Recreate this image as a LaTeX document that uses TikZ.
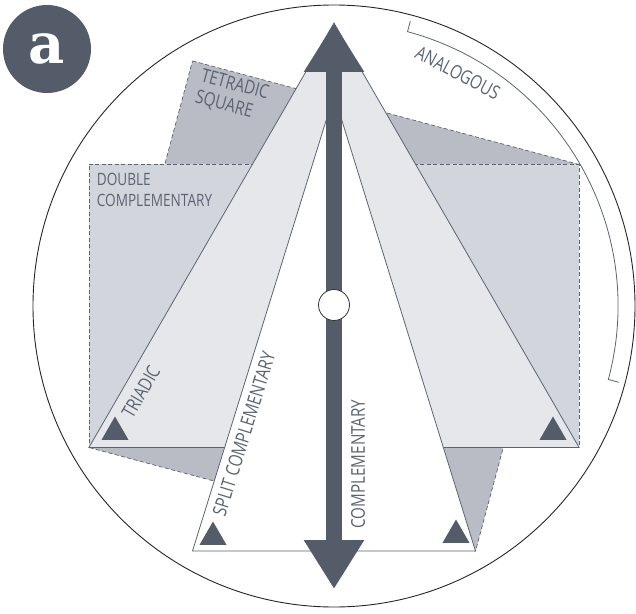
\documentclass[tikz,border=0pt]{standalone}
\usepackage{fontspec}
\newfontfamily\labelfont[FakeStretch=0.8]{Open Sans}
\newfontfamily\badgefont{DejaVu Serif}
\usetikzlibrary{arrows.meta,shapes.geometric}
\definecolor{slate}{HTML}{555C69}
\definecolor{ink}{HTML}{5C6372}
\definecolor{tetra}{HTML}{B9BCC4}
\definecolor{dcomp}{HTML}{D2D5DC}
\definecolor{triad}{HTML}{E6E7EB}

\begin{document}
\begin{tikzpicture}[x=1pt,y=1pt,
        wheel/.style={draw=black!85,line width=0.9pt},
        edge/.style={draw=ink,line width=0.8pt},
        dashedge/.style={draw=ink,line width=0.7pt,dash pattern=on 4pt off 2.5pt},
        cornermark/.style={regular polygon,regular polygon sides=3,fill=slate,minimum size=31pt,inner sep=0pt},
        lbl/.style={text=ink,inner sep=0pt,font=\labelfont\fontsize{19}{22}\selectfont}]
            \useasboundingbox (-334,-307) rectangle (302,306);

            \draw[wheel] (0,0) circle[radius=301];

            % schemes, back to front
            \filldraw[fill=tetra,dashedge] (120:283) -- (30:283) -- (-60:283) -- (210:283) -- cycle;
            \filldraw[fill=dcomp,dashedge] (150:283) -- (30:283) -- (-30:283) -- (210:283) -- cycle;
            \filldraw[fill=triad,edge] (90:283) -- (210:283) -- (330:283) -- cycle;
            \filldraw[fill=white,edge] (0,211) -- (240:283) -- (300:283) -- cycle;

            \draw[edge] (75:295) -- (75:284) arc[start angle=75,end angle=-15,radius=284] -- (-15:295);

            \foreach \x/\y/\n in {-219/-126/tl, 219/-126/tr, -121/-231/sl, 122/-229/sr}
            {
                \node[cornermark] (m\n) at (\x,\y) {};
            }

            \coordinate (tipN) at (90:283);
            \coordinate (tipS) at (270:283);
            \draw[slate,line width=16pt,{Triangle[length=49pt,width=57pt]}-{Triangle[length=49pt,width=57pt]}] (tipN) -- (tipS);
            \node[circle,draw=black!80,fill=white,line width=0.8pt,minimum size=31pt,inner sep=0pt] (hub) at (0,1) {};

            \node[lbl,rotate=60] (triadic) at (-193,-86) {TRIADIC};
            \node[lbl,rotate=72.8] (split) at (-90,-128) {SPLIT COMPLEMENTARY};
            \node[lbl,rotate=90] (comp) at (24,-158) {COMPLEMENTARY};
            \node[lbl,align=left,font=\labelfont\fontsize{17}{21}\selectfont] (double) at (-179.5,116) {DOUBLE\\COMPLEMENTARY};
            \node[lbl,align=left,rotate=-15] (tetradic) at (-102,210) {TETRADIC\\SQUARE};
            \node[lbl,rotate=-28] (analog) at (62:264) {ANALOGOUS};

            \node[circle,fill=slate,minimum size=88pt,inner sep=0pt,text=white,font=\badgefont\bfseries\fontsize{56}{56}\selectfont] (badge) at (-287,257) {a};
        \end{tikzpicture}
\end{document}
